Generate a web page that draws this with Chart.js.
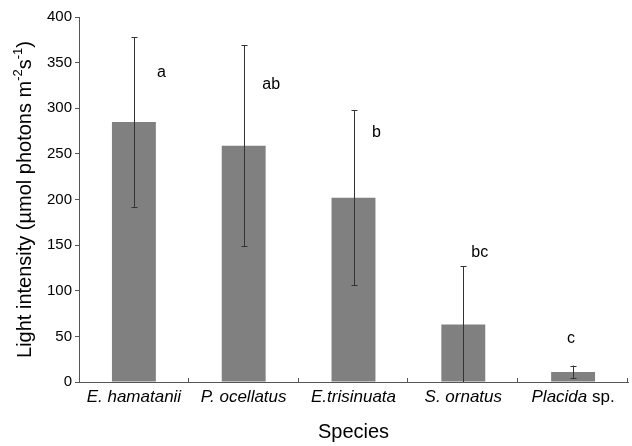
<!DOCTYPE html>
<html>
<head>
<meta charset="utf-8">
<script src="https://cdn.jsdelivr.net/npm/chart.js@4/dist/chart.umd.min.js"></script>
<style>
html,body{margin:0;padding:0;background:#fff;}
canvas{display:block;}
</style>
</head>
<body>
<canvas id="c" width="632" height="446"></canvas>
<script>
const categories = ['E. hamatanii', 'P. ocellatus', 'E.trisinuata', 'S. ornatus', 'Placida sp.'];
const means = [285, 259, 202, 63, 11];
const sds = [93, 110, 96, 64, 7];
const letters = ['a', 'ab', 'b', 'bc', 'c'];
const letterValues = [339, 326, 273, 142, 48];
const letterShift = [0.25, 0.25, 0.21, 0.15, -0.02];
const yTicks = [0, 50, 100, 150, 200, 250, 300, 350, 400];

const FONT = "'Liberation Sans', Arial, Helvetica, sans-serif";
const AXIS = '#555';

const decorPlugin = {
  id: 'decor',
  afterDatasetsDraw(chart) {
    const ctx = chart.ctx;
    const x = chart.scales.x, y = chart.scales.y;
    const area = chart.chartArea;
    const catW = x.getPixelForValue(1) - x.getPixelForValue(0);
    ctx.save();
    // error bars
    ctx.strokeStyle = '#333';
    ctx.lineWidth = 1;
    means.forEach((m, i) => {
      const px = Math.round(x.getPixelForValue(i)) + 0.5;
      const top = y.getPixelForValue(m + sds[i]);
      let bot = y.getPixelForValue(m - sds[i]);
      const clipped = bot > area.bottom;
      if (clipped) bot = area.bottom;
      ctx.beginPath();
      ctx.moveTo(px, top); ctx.lineTo(px, bot);
      ctx.moveTo(px - 3, Math.round(top) + 0.5); ctx.lineTo(px + 3, Math.round(top) + 0.5);
      if (!clipped) { ctx.moveTo(px - 3, Math.round(bot) + 0.5); ctx.lineTo(px + 3, Math.round(bot) + 0.5); }
      ctx.stroke();
    });
    // x ticks (inward, between categories)
    ctx.strokeStyle = AXIS;
    ctx.beginPath();
    for (let i = 0; i < categories.length; i++) {
      const px = Math.round(x.getPixelForValue(i + 0.5)) - 0.5;
      ctx.moveTo(px, area.bottom); ctx.lineTo(px, area.bottom - 4);
    }
    ctx.stroke();
    // letters
    ctx.fillStyle = '#000';
    ctx.font = '16px ' + FONT;
    ctx.textAlign = 'center';
    ctx.textBaseline = 'middle';
    letters.forEach((l, i) => {
      ctx.fillText(l, x.getPixelForValue(i) + letterShift[i] * catW, y.getPixelForValue(letterValues[i]));
    });
    // x category labels (italic, "sp." upright)
    ctx.textBaseline = 'middle';
    categories.forEach((lab, i) => {
      const cx = x.getPixelForValue(i);
      const ly = area.bottom + 15;
      let ital = lab, rest = '';
      if (lab.endsWith(' sp.')) { ital = lab.slice(0, -4); rest = ' sp.'; }
      ctx.font = 'italic 17px ' + FONT;
      const w1 = ctx.measureText(ital).width;
      ctx.font = '17px ' + FONT;
      const w2 = rest ? ctx.measureText(rest).width : 0;
      let sx = cx - (w1 + w2) / 2;
      ctx.textAlign = 'left';
      ctx.font = 'italic 17px ' + FONT;
      ctx.fillText(ital, sx, ly);
      if (rest) { ctx.font = '17px ' + FONT; ctx.fillText(rest, sx + w1, ly); }
    });
    // x title
    ctx.textAlign = 'center';
    ctx.font = '20px ' + FONT;
    ctx.fillText('Species', (area.left + area.right) / 2, area.bottom + 50);
    // y title with superscripts
    const parts = [
      ['Light intensity (\u00b5mol photons m', 20, 0],
      ['-2', 13, -7],
      ['s', 20, 0],
      ['-1', 13, -7],
      [')', 20, 0]
    ];
    let total = 0;
    parts.forEach(p => { ctx.font = p[1] + 'px ' + FONT; p.push(ctx.measureText(p[0]).width); total += p[3]; });
    ctx.translate(25, (area.top + area.bottom) / 2);
    ctx.rotate(-Math.PI / 2);
    ctx.textAlign = 'left';
    let cur = -total / 2;
    parts.forEach(p => {
      ctx.font = p[1] + 'px ' + FONT;
      ctx.fillText(p[0], cur, p[2]);
      cur += p[3];
    });
    ctx.restore();
  }
};

new Chart(document.getElementById('c'), {
  type: 'bar',
  data: {
    labels: categories,
    datasets: [{
      data: means,
      backgroundColor: '#808080',
      borderWidth: 0,
      barPercentage: 0.4,
      categoryPercentage: 1
    }]
  },
  options: {
    responsive: false,
    animation: false,
    layout: { padding: { top: 17, right: 4, left: 0, bottom: 0 } },
    plugins: { legend: { display: false }, tooltip: { enabled: false } },
    scales: {
      x: {
        grid: { display: false, drawTicks: false },
        border: { color: AXIS, width: 1 },
        ticks: { display: false },
        afterFit: s => { s.height = 64; }
      },
      y: {
        min: 0, max: 400,
        afterBuildTicks: s => { s.ticks = yTicks.map(v => ({ value: v })); },
        ticks: { font: { family: FONT, size: 15 }, color: '#000', padding: 3 },
        grid: { drawOnChartArea: false, tickLength: 4, color: AXIS },
        border: { color: AXIS, width: 1 },
        afterFit: s => { s.width = 79; }
      }
    }
  },
  plugins: [decorPlugin]
});
</script>
</body>
</html>
